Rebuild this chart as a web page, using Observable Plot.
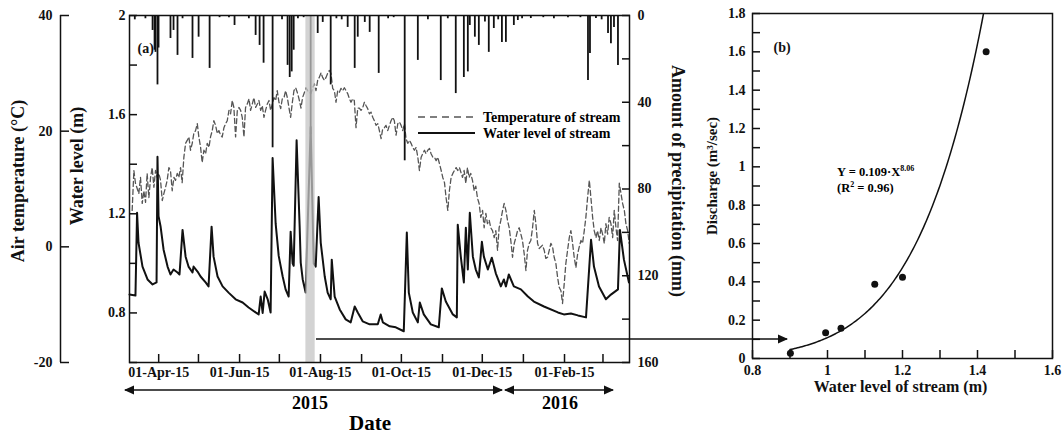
<!DOCTYPE html>
<html><head><meta charset="utf-8">
<script src="https://cdn.jsdelivr.net/npm/d3@7"></script>
<script src="https://cdn.jsdelivr.net/npm/@observablehq/plot@0.6"></script>
<style>
body{margin:0;background:#fff;}
#wrap{position:relative;width:1063px;height:436px;background:#fff;}
#wrap > svg{position:absolute;left:0;top:0;}
</style></head><body><div id="wrap"></div>
<script>
// ---------- DATA (day = days after 2015-03-10) ----------
const waterLevel = [[0,0.874],[4.5,0.870],[5.7,1.204],[6.8,1.083],[9.8,0.987],[13.6,0.935],[17.4,0.915],[20.4,0.923],[21.1,1.43],[21.9,1.19],[23.4,1.15],[25.7,1.055],[28.7,0.987],[30.9,0.955],[33.2,0.975],[36.2,0.963],[37.7,0.955],[40.0,1.135],[42.3,1.027],[44.5,0.987],[47.5,0.963],[48.3,0.987],[51.3,0.967],[53.6,0.947],[57.4,0.923],[59.6,0.907],[61.9,1.148],[63.4,1.027],[66.4,0.947],[70.2,0.907],[74.7,0.882],[80.0,0.855],[85.3,0.842],[89.8,0.822],[95.1,0.802],[97.4,0.794],[98.9,0.866],[100.4,0.80],[101.9,0.886],[104.2,0.855],[106.4,0.802],[107.9,1.425],[110.2,1.16],[112.5,1.03],[115.5,0.947],[117.7,0.895],[120.0,0.866],[121.5,1.128],[123.0,1.0],[123.8,0.99],[126.0,1.497],[128.3,1.148],[129.1,1.003],[130.6,0.935],[132.8,0.882],[136.6,1.55],[138.9,1.0],[140.4,0.987],[142.6,1.268],[144.2,1.083],[147.2,0.947],[149.4,0.882],[151.7,0.855],[152.5,1.015],[154.7,0.866],[158.5,0.814],[163.0,0.774],[166.8,0.762],[169.8,0.826],[172.1,0.802],[175.8,0.766],[181.1,0.754],[187.2,0.754],[189.4,0.794],[191.0,0.762],[196.2,0.746],[200.8,0.742],[206.8,0.726],[209.1,1.124],[210.6,0.882],[213.6,0.802],[217.4,0.762],[218.9,0.842],[221.9,0.794],[227.2,0.754],[233.2,0.742],[235.5,0.899],[238.5,0.846],[243.8,0.794],[246.8,0.782],[247.5,1.156],[249.8,1.027],[252.1,0.923],[253.6,1.144],[255.1,0.975],[256.6,1.204],[258.9,1.027],[261.1,0.975],[263.4,0.943],[265.7,1.087],[267.2,1.027],[270.2,0.975],[273.2,1.023],[276.2,0.96],[280.0,0.907],[282.3,0.935],[283.8,0.907],[286.0,0.955],[289.8,0.907],[295.1,0.895],[300.4,0.866],[304.9,0.846],[312.5,0.826],[323.0,0.802],[327.5,0.794],[332.8,0.798],[338.1,0.79],[344.2,0.782],[348.0,1.095],[350.2,0.987],[354.0,0.907],[359.2,0.855],[363.0,0.874],[368.3,0.895],[369.8,1.135],[372.8,1.015],[376.6,0.923]];

const precipitation = [[4,2],[12,1.5],[17.4,6.9],[18.9,16],[19.6,17],[21.1,32],[21.9,15],[30.9,10.6],[33.2,6.9],[36.2,18.4],[40,1.5],[47.5,19.8],[52.1,10],[60.4,24.4],[67.9,1],[75,1],[79.2,4.6],[90,1.5],[95.1,9.2],[98.1,13.8],[101.1,22],[107.9,61],[115,2],[119.2,23],[120.8,28.6],[122.3,26],[123.8,16],[127,1.5],[131.3,1],[136.6,55],[141.9,8.3],[145.7,3.2],[151.7,32],[156,1.5],[160,2],[164.5,5.5],[169.8,24.4],[172.1,10],[177.4,3.2],[181.1,7.8],[187.9,26.7],[195,1.5],[199.2,1],[207.5,67],[217.4,20.7],[225,2],[234.7,30],[240,1.5],[246.0,36],[252.1,28.6],[255.1,26],[256.6,4.6],[260.4,10],[263.4,13.8],[268,3],[270.9,17],[274.7,6],[278,2],[280.8,12.4],[283.8,12.4],[289.8,4.6],[292.8,2.3],[296,1.5],[302.6,1.4],[312,1],[320,1.5],[330.6,1],[340,1],[345.7,30],[347.2,17.5],[351.7,1.4],[356,2],[360.8,8.3],[363.0,13],[365.3,5.5],[368.3,23]];

const streamTemperature = [[2.0,6.3],[3.3,13.2],[4.5,11],[7.0,9.2],[8.3,12],[9.6,7.5],[10.8,9.7],[12.1,7.7],[13.3,12.7],[14.6,8.5],[15.9,12],[17.1,13.7],[18.4,10.3],[19.6,13.2],[20.9,12],[22.1,12.7],[23.4,11.5],[24.7,8],[25.9,9.2],[27.2,10.3],[28.4,11.5],[29.7,13.7],[30.9,13.2],[32.2,9.7],[33.5,12],[34.7,11.5],[36.0,12.7],[37.2,12],[38.5,13.7],[39.7,11.1],[41.0,15.5],[42.3,17.9],[43.5,18.4],[44.8,19],[46.0,16.7],[47.3,17.9],[48.5,19.6],[49.8,20.1],[51.1,21.3],[52.3,19],[53.6,17.2],[54.8,14.6],[56.1,16.7],[57.4,16.1],[58.6,17.9],[59.9,17.2],[61.1,19],[62.4,20.1],[63.6,21.8],[64.9,21],[66.2,19.6],[67.4,20.1],[68.7,19.3],[69.9,19],[71.2,20.6],[72.5,21.3],[73.7,21.8],[75.0,23.6],[76.2,23],[77.5,25.3],[78.7,24.1],[80.0,19],[81.3,23.6],[82.5,24.1],[83.8,23.6],[85.0,22.4],[86.3,19],[87.5,24.1],[88.8,24.7],[90.1,25.6],[91.3,23.6],[92.6,24.7],[93.8,25.8],[95.1,24.1],[96.4,24.7],[97.6,25.3],[98.9,23.6],[100.1,24.4],[101.4,22.4],[102.6,23.6],[103.9,24.7],[105.2,25.3],[106.4,23.6],[107.7,24.7],[108.9,25.8],[110.2,25.3],[111.4,27],[112.7,25],[114.0,23.9],[115.2,25.6],[116.5,25.8],[117.7,27],[119.0,25.8],[120.2,24.1],[121.5,22.4],[122.8,25],[124.0,27],[125.3,27.5],[126.8,26.5],[128.1,25.3],[129.3,24],[130.5,25.8],[133.1,27.5],[134.3,27],[136.8,26.5],[138.1,27.5],[139.4,28.2],[140.6,27],[141.9,28.8],[143.1,29.3],[144.4,30.1],[145.6,29.3],[146.9,28.8],[148.2,29.3],[149.4,30],[150.7,30.5],[151.9,30],[153.2,27.4],[154.5,27],[155.7,25],[157.0,27],[158.2,26.7],[159.5,27.4],[160.7,27],[162.0,27.5],[163.3,27],[164.5,26.5],[165.8,25.6],[167.0,25],[168.3,25.6],[169.5,25.3],[170.3,22.4],[170.8,20.6],[172.1,24],[173.3,24],[174.6,23.6],[175.8,24],[177.1,25],[178.4,24.4],[179.6,23.9],[180.9,23],[182.1,23.3],[183.4,22.4],[184.6,21.8],[185.9,21],[187.2,21.3],[188.4,20.1],[189.7,18.7],[190.9,20.4],[192.2,20.6],[193.4,21],[194.7,20.1],[196.0,21],[197.2,21.8],[198.5,22.4],[199.7,21.8],[201.0,19.3],[202.3,21.3],[203.5,21.6],[204.8,21],[206.0,20.1],[207.3,21.3],[208.5,18.7],[209.8,17.9],[211.1,18.4],[212.3,17.9],[213.6,17.2],[214.8,16.7],[216.1,17.2],[217.4,15.5],[218.6,13.2],[219.9,15.5],[221.1,16.1],[222.4,16.7],[223.6,16.1],[224.9,16.7],[226.2,17],[227.4,16.1],[228.7,15.5],[229.9,15.5],[231.2,14.9],[232.4,15.5],[233.7,14.4],[235.0,13.2],[236.2,12],[237.5,11.1],[238.7,8.5],[240.0,6.3],[241.2,9.7],[242.5,12],[243.8,12.7],[245.0,13.2],[246.3,13.7],[247.5,13.2],[248.8,13.7],[251.1,12],[252.3,13.2],[253.6,11],[254.8,13.7],[256.1,12],[257.3,12.7],[258.6,11.5],[259.9,9.7],[261.1,10.5],[262.4,8.4],[263.6,7.5],[264.9,5.1],[266.2,6.3],[267.4,3.3],[268.7,5.8],[269.9,4],[271.2,4.6],[272.4,3.3],[273.7,2.8],[275.0,1.6],[276.2,2.8],[277.5,-0.6],[278.7,3.3],[280.0,4.6],[281.3,6.3],[282.5,7.5],[283.8,6.3],[285.0,4.6],[286.3,3.3],[287.5,1.1],[288.8,-1.8],[290.1,0.6],[291.3,1.6],[292.6,2.8],[293.8,3.3],[295.1,2.2],[296.3,1.1],[297.6,-1.2],[298.9,-4.1],[300.1,-0.6],[301.4,0.6],[302.6,1.1],[303.9,3.3],[305.2,6.3],[306.4,4],[307.7,0.6],[308.9,-0.3],[310.2,0],[311.4,0.3],[312.7,-0.6],[313.9,-2],[315.2,-1.8],[316.5,-0.6],[317.7,0.6],[319.0,0],[320.2,-1.8],[321.5,-2.9],[322.8,-5.3],[324.0,-7],[325.3,-7.6],[326.5,-9.8],[327.8,-6.3],[329.0,-2.9],[330.3,-0.6],[331.6,1.6],[332.8,2.8],[334.1,0.6],[335.3,-1.8],[336.6,-3.6],[337.9,-1.2],[339.1,0],[340.4,1.1],[341.6,0.6],[342.9,2.8],[344.1,5.1],[345.4,8.5],[346.7,11.5],[347.9,8.5],[349.2,5.1],[350.4,2.8],[351.7,1.6],[352.9,2.8],[354.2,1.1],[355.5,3.3],[356.7,2.2],[358.0,0.6],[359.2,4],[360.5,2.2],[361.7,5.1],[363.0,4],[364.3,1.6],[365.5,6.3],[366.8,3.3],[368.0,1.1],[369.3,11],[370.6,9.2],[371.8,7.5],[373.1,6.3],[374.3,4],[375.6,2.8],[376.8,0.6]];

const bandDates = ["2015-07-21", "2015-07-28"];

// panel (b)
const stage = [0.901, 0.995, 1.036, 1.126, 1.2, 1.423];
const discharge = [0.028, 0.134, 0.158, 0.387, 0.424, 1.60];
const fitCoef = 0.109, fitExp = 8.06;

// ticks and tick labels
const monthTicks = ["2015-04-01","2015-05-01","2015-06-01","2015-07-01","2015-08-01","2015-09-01","2015-10-01","2015-11-01","2015-12-01","2016-01-01","2016-02-01","2016-03-01"];
const dateLabelTicks = ["2015-04-01","2015-06-01","2015-08-01","2015-10-01","2015-12-01","2016-02-01"];
const dateLabels = ["01-Apr-15","01-Jun-15","01-Aug-15","01-Oct-15","01-Dec-15","01-Feb-15"];
const wlTicks = [0.6,0.8,1.0,1.2,1.4,1.6,1.8,2.0];
const wlLabels = ["","0.8","","1.2","","1.6","","2"];
const tempTicks = [-20,0,20,40];
const tempLabels = ["-20","0","20","40"];
const precipTicks = [0,20,40,60,80,100,120,140,160];
const precipLabels = ["0","","40","","80","","120","","160"];
const bxTicks = [0.8,0.9,1.0,1.1,1.2,1.3,1.4,1.5,1.6];
const bxLabels = ["0.8","","1","","1.2","","1.4","","1.6"];
const byTicks = [0,0.1,0.2,0.3,0.4,0.5,0.6,0.7,0.8,0.9,1.0,1.1,1.2,1.3,1.4,1.5,1.6,1.7,1.8];
const byLabels = ["0","","0.2","","0.4","","0.6","","0.8","","1","","1.2","","1.4","","1.6","","1.8"];

// ---------- RENDER ----------
const W = 1063, H = 436;
const t0 = Date.UTC(2015, 2, 10);
const toDate = d => new Date(t0 + d * 864e5);
const fmt = (ticks, labels) => { const m = new Map(ticks.map((t, i) => [+t, labels[i]])); return d => m.get(+d) ?? ""; };
const serif = '"Liberation Serif","Times New Roman",serif';
const baseStyle = {background: "transparent", overflow: "visible", fontFamily: serif, fontSize: "14px", fontWeight: "bold", color: "#111"};
const A = {width: W, height: H, marginLeft: 129, marginRight: W - 629, marginTop: 15, marginBottom: H - 362, style: baseStyle};
const xA = {type: "utc", domain: [toDate(0), toDate(377)]};
const wrap = document.getElementById("wrap");

const plotT = Plot.plot({...A,
  x: {...xA, axis: null},
  y: {domain: [-20, 40]},
  marks: [
    Plot.line(streamTemperature, {x: d => toDate(d[0]), y: d => d[1], stroke: "#555", strokeWidth: 1.3, strokeDasharray: "5,3"}),
    Plot.ruleX([toDate(0)], {x: d => d, y1: -20, y2: 40, dx: -69, stroke: "#111", strokeWidth: 1.5}),
    Plot.axisY({anchor: "left", ticks: tempTicks, tickFormat: fmt(tempTicks, tempLabels), tickSize: -9, tickPadding: 17, dx: -69, label: null, strokeWidth: 1.5}),
    Plot.text(["Air temperature (°C)"], {text: d => d, frameAnchor: "left", textAnchor: "middle", dx: -111, dy: -8, rotate: -90, fontSize: 18, fontWeight: "bold"})
  ]
});

const plotP = Plot.plot({...A,
  x: {...xA, axis: null},
  y: {domain: [0, 160], reverse: true},
  marks: [
    Plot.ruleX(precipitation, {x: d => toDate(d[0]), y1: 0, y2: d => d[1], stroke: "#111", strokeWidth: 1.8}),
    Plot.axisY({anchor: "right", ticks: precipTicks, tickFormat: fmt(precipTicks, precipLabels), tickSize: -8, tickPadding: 16, label: null, strokeWidth: 1.5}),
    Plot.text(["Amount of precipitation (mm)"], {text: d => d, frameAnchor: "right", textAnchor: "middle", dx: 48, dy: -8, rotate: 90, fontSize: 18, fontWeight: "bold"})
  ]
});

const plotW = Plot.plot({...A,
  x: xA,
  y: {domain: [0.6, 2]},
  marks: [
    Plot.line(waterLevel, {x: d => toDate(d[0]), y: d => d[1], stroke: "#111", strokeWidth: 2, strokeLinejoin: "round"}),
    Plot.rect([bandDates], {x1: d => new Date(d[0]), x2: d => new Date(d[1]), fill: "#c4c4c4", fillOpacity: 0.75}),
    Plot.frame({stroke: "#111", strokeWidth: 1.5}),
    Plot.axisY({anchor: "left", ticks: wlTicks, tickFormat: fmt(wlTicks, wlLabels), tickSize: -8, tickPadding: 12, label: null, strokeWidth: 1.5}),
    Plot.axisX({anchor: "bottom", ticks: monthTicks.map(s => new Date(s)), tickSize: -8, tickFormat: () => "", label: null, strokeWidth: 1.5}),
    Plot.axisX({anchor: "bottom", ticks: dateLabelTicks.map(s => new Date(s)), tickSize: 0, tickPadding: 5,
      tickFormat: fmt(dateLabelTicks.map(s => new Date(s)), dateLabels), label: null}),
    Plot.text(["(a)"], {text: d => d, frameAnchor: "top-left", dx: 8, dy: 28, textAnchor: "start", fontWeight: "bold"}),
    Plot.text(["Water level (m)"], {text: d => d, frameAnchor: "left", textAnchor: "middle", dx: -52, dy: -23, rotate: -90, fontSize: 18, fontWeight: "bold"})
  ]
});

const curveX = d3.range(0.9, 1.44, 0.004);
const fitCurve = curveX.map(x => ({x, y: fitCoef * Math.pow(x, fitExp)}));
const plotB = Plot.plot({width: W, height: H, marginLeft: 752, marginRight: 11, marginTop: 13, marginBottom: 78, style: baseStyle,
  x: {domain: [0.8, 1.6]},
  y: {domain: [0, 1.8]},
  marks: [
    Plot.frame({stroke: "#111", strokeWidth: 1.5}),
    Plot.line(fitCurve, {x: "x", y: "y", stroke: "#111", strokeWidth: 1.5, clip: true}),
    Plot.dot(stage.map((s, i) => ({s, q: discharge[i]})), {x: "s", y: "q", r: 3.5, fill: "#111", stroke: "none"}),
    Plot.axisX({anchor: "bottom", ticks: bxTicks, tickFormat: fmt(bxTicks, bxLabels), tickSize: -8, tickPadding: 15, label: null, strokeWidth: 1.5}),
    Plot.axisY({anchor: "left", ticks: byTicks, tickFormat: fmt(byTicks, byLabels), tickSize: -8, tickPadding: 15, label: null, strokeWidth: 1.5}),
    Plot.text(["(b)"], {text: d => d, frameAnchor: "top-left", dx: 21, dy: 29, textAnchor: "start", fontWeight: "bold"}),
    Plot.text(["Discharge (m³/sec)"], {text: d => d, frameAnchor: "left", textAnchor: "middle", dx: -40, dy: -10, rotate: -90, fontSize: 15, fontWeight: "bold"}),
    Plot.text(["Water level of stream (m)"], {text: d => d, frameAnchor: "bottom", textAnchor: "middle", dx: -2, dy: 33, fontSize: 16, fontWeight: "bold"})
  ]
});

wrap.append(plotT, plotP, plotW, plotB);

// ---------- annotations overlay ----------
const ov = d3.select(wrap).append("svg").attr("width", W).attr("height", H)
  .style("font-family", serif).style("font-weight", "bold").style("pointer-events", "none");
const arrowLine = (x1, x2, y, left, right) => {
  ov.append("line").attr("x1", x1).attr("x2", x2).attr("y1", y).attr("y2", y).attr("stroke", "#111").attr("stroke-width", 1.6);
  if (left) ov.append("path").attr("d", `M${x1 - 1},${y}L${x1 + 9},${y - 4.5}L${x1 + 9},${y + 4.5}Z`).attr("fill", "#111");
  if (right) ov.append("path").attr("d", `M${x2 + 1},${y}L${x2 - 9},${y - 4.5}L${x2 - 9},${y + 4.5}Z`).attr("fill", "#111");
};
arrowLine(125, 502, 390, true, true);
arrowLine(505, 613, 390, true, true);
arrowLine(316, 787, 339, false, true);
ov.append("text").attr("x", 310).attr("y", 409).attr("text-anchor", "middle").attr("font-size", 18).text("2015");
ov.append("text").attr("x", 560).attr("y", 409).attr("text-anchor", "middle").attr("font-size", 18).text("2016");
ov.append("text").attr("x", 370).attr("y", 430).attr("text-anchor", "middle").attr("font-size", 21).text("Date");
// legend
ov.append("line").attr("x1", 418).attr("x2", 475).attr("y1", 117).attr("y2", 117).attr("stroke", "#555").attr("stroke-width", 1.5).attr("stroke-dasharray", "7,5");
ov.append("line").attr("x1", 418).attr("x2", 475).attr("y1", 133).attr("y2", 133).attr("stroke", "#111").attr("stroke-width", 2);
ov.append("text").attr("x", 483).attr("y", 122).attr("font-size", 14).text("Temperature of stream");
ov.append("text").attr("x", 483).attr("y", 138).attr("font-size", 14).text("Water level of stream");
// equation
const eq = ov.append("text").attr("x", 837).attr("y", 176).attr("font-size", 12.5);
eq.append("tspan").text("Y = 0.109·X");
eq.append("tspan").attr("dy", -5).attr("font-size", 8).text("8.06");
const r2 = ov.append("text").attr("x", 837).attr("y", 192).attr("font-size", 12.5);
r2.append("tspan").text("(R");
r2.append("tspan").attr("dy", -5).attr("font-size", 8).text("2");
r2.append("tspan").attr("dy", 5).text(" = 0.96)");
</script></body></html>
